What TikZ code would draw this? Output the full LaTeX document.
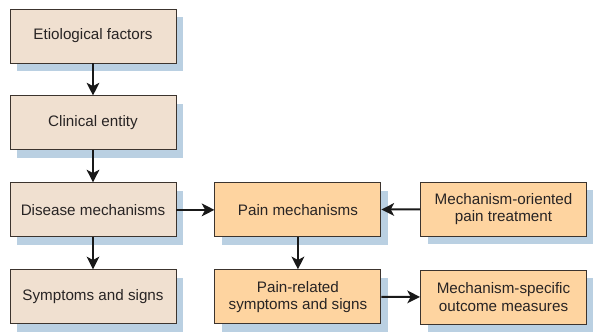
\documentclass[tikz,border=0pt]{standalone}
\usepackage{fontspec}
\setmainfont{Liberation Sans}
\usetikzlibrary{positioning,shadows,arrows.meta}
\definecolor{beige}{RGB}{240,224,208}
\definecolor{peach}{RGB}{254,212,160}
\definecolor{shadowblue}{RGB}{186,208,226}
\definecolor{boxline}{RGB}{60,52,46}
\definecolor{textgray}{RGB}{40,36,36}
\begin{document}
\begin{tikzpicture}[x=0.75pt,y=-0.75pt,
  node distance=24pt and 28.5pt,
  box/.style={rectangle,draw=boxline,line width=0.7pt,minimum width=124.5pt,
    minimum height=40.5pt,align=center,text=textgray,
    font=\fontsize{11.4}{12.9}\selectfont,
    drop shadow={shadow xshift=5.25pt,shadow yshift=-6pt,fill=shadowblue,opacity=1}},
  step box/.style={box,fill=beige},
  pain box/.style={box,fill=peach},
  flow/.style={-{Stealth[length=9.5pt,width=9.5pt,inset=2.5pt]},line width=1.5pt,black!90}]
  \useasboundingbox (0,0) rectangle (593,333);

  \node[step box] (etio) at (93,36) {Etiological factors};
  \node[step box] (clin) [below=of etio] {Clinical entity};
  \node[step box] (dis) [below=of clin] {Disease mechanisms};
  \node[step box] (symp) [below=of dis] {Symptoms and signs};
  \node[pain box] (painmech) [right=of dis] {Pain mechanisms};
  \node[pain box] (treat) at (503.5,209) {Mechanism-oriented\\pain treatment};
  \node[pain box] (painsymp) [below=of painmech] {Pain-related\\symptoms and signs};
  \node[pain box] (outcome) at (503.5,297) {Mechanism-specific\\outcome measures};

  \draw[flow] (etio) -- (clin);
  \draw[flow] (clin) -- (dis);
  \draw[flow] (dis) -- (symp);
  \draw[flow] (dis) -- (painmech);
  \draw[flow] (treat) -- (painmech);
  \draw[flow] (painmech) -- (painsymp);
  \draw[flow] (painsymp) -- (outcome);
\end{tikzpicture}
\end{document}
